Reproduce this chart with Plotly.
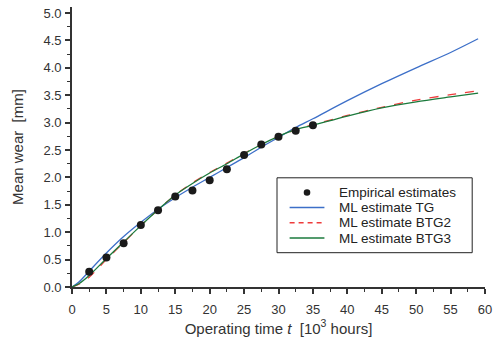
import plotly.graph_objects as go

# Empirical estimates
t_emp = [2.5, 5, 7.5, 10, 12.5, 15, 17.5, 20, 22.5, 25, 27.5, 30, 32.5, 35]
w_emp = [0.28, 0.54, 0.80, 1.13, 1.40, 1.65, 1.76, 1.95, 2.15, 2.41, 2.60, 2.74, 2.85, 2.95]

# Model curves
t_fit = [0, 1, 2.5, 5, 7.5, 10, 12.5, 15, 17.5, 20, 22.5, 25, 27.5, 30, 32.5, 35, 40, 45, 50, 55, 59]
w_tg = [0, 0.09, 0.29, 0.62, 0.92, 1.18, 1.42, 1.63, 1.82, 2.00, 2.18, 2.36, 2.55, 2.73, 2.91, 3.07, 3.40, 3.71, 4.00, 4.28, 4.53]
w_btg2 = [0, 0.05, 0.18, 0.50, 0.81, 1.12, 1.41, 1.68, 1.90, 2.09, 2.26, 2.44, 2.60, 2.75, 2.87, 2.96, 3.13, 3.28, 3.41, 3.51, 3.58]
w_btg3 = [0, 0.06, 0.21, 0.52, 0.82, 1.12, 1.41, 1.68, 1.89, 2.08, 2.25, 2.43, 2.60, 2.75, 2.87, 2.95, 3.12, 3.27, 3.38, 3.47, 3.54]

x_ticks = list(range(0, 61, 5))
y_ticks = [i * 0.5 for i in range(11)]

series_names = ["Empirical estimates", "ML estimate TG", "ML estimate BTG2", "ML estimate BTG3"]
series_colors = ["#1a1a1a", "#3c6fc8", "#ee3b3b", "#1b7a3c"]

FONT = "Liberation Sans, Arial"

fig = go.Figure()
fig.add_trace(go.Scatter(x=t_fit, y=w_tg, mode="lines", name=series_names[1], showlegend=False,
                         line=dict(color=series_colors[1], width=1.3, shape="spline", smoothing=0.8)))
fig.add_trace(go.Scatter(x=t_fit, y=w_btg2, mode="lines", name=series_names[2], showlegend=False,
                         line=dict(color=series_colors[2], width=1.3, dash="dash", shape="spline", smoothing=0.8)))
fig.add_trace(go.Scatter(x=t_fit, y=w_btg3, mode="lines", name=series_names[3], showlegend=False,
                         line=dict(color=series_colors[3], width=1.3, shape="spline", smoothing=0.8)))
fig.add_trace(go.Scatter(x=t_emp, y=w_emp, mode="markers", name=series_names[0], showlegend=False,
                         marker=dict(color=series_colors[0], size=8)))

# Legend drawn as a boxed key (paper coordinates of the plot area)
box = dict(x0=0.4964, x1=0.969, y0=0.1225, y1=0.390)
row_y = [0.3375, 0.2839, 0.2293, 0.1750]
sym_x0, sym_x1, txt_x = 0.5269, 0.6112, 0.6445

shapes = [dict(type="rect", xref="paper", yref="paper", **box,
               line=dict(color="#222", width=1), fillcolor="white", layer="above")]
shapes.append(dict(type="circle", xref="paper", yref="paper", xsizemode="pixel", ysizemode="pixel",
                   xanchor=(sym_x0 + sym_x1) / 2, yanchor=row_y[0], x0=-3.3, x1=3.3, y0=-3.3, y1=3.3,
                   fillcolor=series_colors[0], line=dict(width=0), layer="above"))
dashes = [None, "solid", "5px,4px", "solid"]
for i in range(1, 4):
    shapes.append(dict(type="line", xref="paper", yref="paper", x0=sym_x0, x1=sym_x1,
                       y0=row_y[i], y1=row_y[i], layer="above",
                       line=dict(color=series_colors[i], width=1.5, dash=dashes[i])))
annotations = [dict(xref="paper", yref="paper", x=txt_x, y=row_y[i], text=series_names[i],
                    xanchor="left", yanchor="middle", showarrow=False, borderpad=0,
                    font=dict(family=FONT, size=13.5, color="#222"))
               for i in range(4)]

axis_common = dict(
    showgrid=False, zeroline=False, showline=True, linecolor="#333", linewidth=1.6,
    ticks="outside", ticklen=5, tickwidth=1.6, tickcolor="#333",
    tickfont=dict(family=FONT, size=13, color="#333"), ticklabeloverflow="allow",
)

fig.update_layout(
    width=497, height=342,
    margin=dict(l=72, r=5, t=7, b=55),
    paper_bgcolor="white", plot_bgcolor="white",
    xaxis=dict(range=[0, 60], tickvals=x_ticks, ticklabelstandoff=5,
               minor=dict(dtick=2.5, ticks="outside", ticklen=3, tickwidth=1.3, tickcolor="#333"),
               title=dict(text="Operating time <i>t</i>  [10<sup>3</sup> hours]",
                          font=dict(family=FONT, size=15, color="#333"), standoff=4),
               **axis_common),
    yaxis=dict(range=[0, 5.11], tickvals=y_ticks, tickformat=".1f", ticklabelstandoff=1,
               minor=dict(dtick=0.25, ticks="outside", ticklen=3, tickwidth=1.3, tickcolor="#333"),
               title=dict(text="Mean wear  [mm]",
                          font=dict(family=FONT, size=15, color="#333"), standoff=16),
               **axis_common),
    shapes=shapes,
    annotations=annotations,
    showlegend=False,
)

fig.write_html("out.html")
